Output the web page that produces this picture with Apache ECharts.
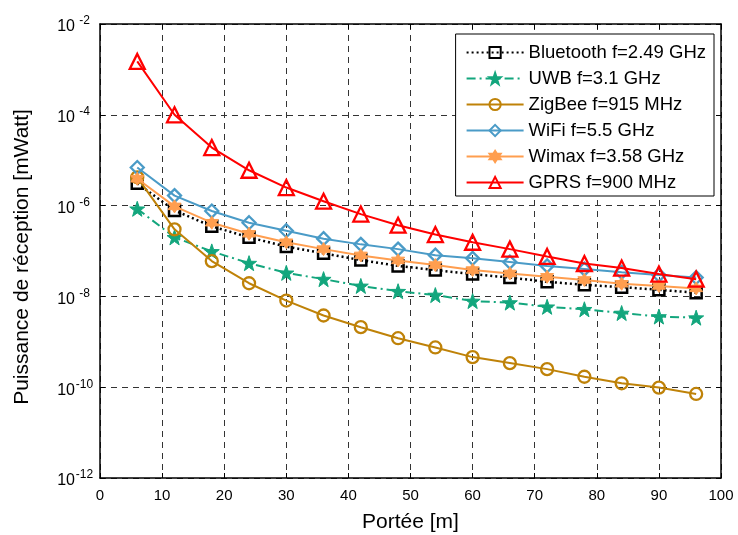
<!DOCTYPE html>
<html>
<head>
<meta charset="utf-8">
<script src="https://cdn.jsdelivr.net/npm/echarts@6/dist/echarts.min.js"></script>
<style>
html,body{margin:0;padding:0;background:#fff;}
#chart{width:738px;height:535px;}
</style>
</head>
<body>
<div id="chart"></div>
<script>
// Distance values (Portée [m])
const distances = [6, 12, 18, 24, 30, 36, 42, 48, 54, 60, 66, 72, 78, 84, 90, 96];

// Series names
const seriesNames = ['Bluetooth f=2.49 GHz', 'UWB f=3.1 GHz', 'ZigBee f=915 MHz', 'WiFi f=5.5 GHz', 'Wimax f=3.58 GHz', 'GPRS f=900 MHz'];

// Received power [mWatt]
const bluetooth = [3.1e-6, 7.8e-7, 3.5e-7, 2.0e-7, 1.25e-7, 8.9e-8, 6.3e-8, 4.7e-8, 3.8e-8, 3.1e-8, 2.6e-8, 2.1e-8, 1.8e-8, 1.6e-8, 1.4e-8, 1.2e-8];
const uwb       = [8.5e-7, 2.0e-7, 9.8e-8, 5.4e-8, 3.3e-8, 2.4e-8, 1.7e-8, 1.3e-8, 1.07e-8, 7.9e-9, 7.3e-9, 5.9e-9, 5.2e-9, 4.3e-9, 3.6e-9, 3.4e-9];
const zigbee    = [4.2e-6, 3.0e-7, 6.0e-8, 1.95e-8, 8.1e-9, 3.8e-9, 2.1e-9, 1.2e-9, 7.5e-10, 4.6e-10, 3.4e-10, 2.5e-10, 1.7e-10, 1.22e-10, 9.8e-11, 7.1e-11];
const wifi      = [6.9e-6, 1.66e-6, 7.6e-7, 4.2e-7, 2.8e-7, 1.87e-7, 1.4e-7, 1.1e-7, 8.1e-8, 6.9e-8, 5.7e-8, 4.7e-8, 4.0e-8, 3.4e-8, 2.95e-8, 2.6e-8];
const wimax     = [3.9e-6, 9.6e-7, 4.2e-7, 2.4e-7, 1.56e-7, 1.1e-7, 8.0e-8, 6.2e-8, 4.9e-8, 3.8e-8, 3.2e-8, 2.7e-8, 2.3e-8, 1.9e-8, 1.7e-8, 1.5e-8];
const gprs      = [1.5e-3, 1.0e-4, 1.9e-5, 6.0e-6, 2.5e-6, 1.25e-6, 6.5e-7, 3.7e-7, 2.3e-7, 1.56e-7, 1.1e-7, 7.6e-8, 5.3e-8, 4.2e-8, 3.1e-8, 2.4e-8];

const FONT = '"Liberation Sans", Arial, Helvetica, sans-serif';
const STAR5 = 'path://M0,-10 L2.35,-3.24 L9.51,-3.09 L3.8,1.24 L5.88,8.09 L0,4 L-5.88,8.09 L-3.8,1.24 L-9.51,-3.09 L-2.35,-3.24 Z';
const STAR6 = 'path://M0,-10 L2.89,-5 L8.66,-5 L5.77,0 L8.66,5 L2.89,5 L0,10 L-2.89,5 L-8.66,5 L-5.77,0 L-8.66,-5 L-2.89,-5 Z';

function pairs(arr) { return distances.map((d, i) => [d, arr[i]]); }

const styles = [
  { data: bluetooth, color: '#000000', symbol: 'rect', size: 11, fill: 'rgba(255,255,255,0)', lineType: [2, 3], lineWidth: 2.5, bw: 2.5 },
  { data: uwb, color: '#13A67D', symbol: STAR5, size: 15, fill: '#13A67D', lineType: [9, 4, 2, 4], lineWidth: 2, bw: 1 },
  { data: zigbee, color: '#BF8208', symbol: 'circle', size: 12, fill: 'rgba(255,255,255,0)', lineType: 'solid', lineWidth: 2, bw: 2.3 },
  { data: wifi, color: '#4A9BC7', symbol: 'diamond', size: 13, fill: 'rgba(255,255,255,0)', lineType: 'solid', lineWidth: 2, bw: 2.3 },
  { data: wimax, color: '#FF9E4F', symbol: STAR6, size: 13, fill: '#FF9E4F', lineType: 'solid', lineWidth: 2, bw: 1 },
  { data: gprs, color: '#FF0000', symbol: 'triangle', size: 15, fill: 'rgba(255,255,255,0)', lineType: 'solid', lineWidth: 2, bw: 2.3 }
];

const series = styles.map((s, i) => ({
  name: seriesNames[i],
  type: 'line',
  data: pairs(s.data),
  symbol: s.symbol,
  symbolSize: s.size,
  showAllSymbol: true,
  smooth: false,
  lineStyle: { color: s.color, width: s.lineWidth, type: s.lineType },
  itemStyle: { color: s.fill, borderColor: s.color, borderWidth: s.bw },
  emphasis: { disabled: true },
  z: 3 + i
}));

const dash = { show: true, lineStyle: { color: '#333', type: [6, 5], width: 1 } };
const axisLine = { show: true, onZero: false, lineStyle: { color: '#000', width: 1.5 } };
const tick = { show: true, inside: true, length: 5, lineStyle: { color: '#000' } };

function yLabel(v) {
  const e = Math.round(Math.log10(v));
  return '{b|10}{e|' + e + '}';
}

const chart = echarts.init(document.getElementById('chart'), null, { renderer: 'canvas' });
chart.setOption({
  animation: false,
  backgroundColor: '#fff',
  textStyle: { fontFamily: FONT },
  grid: { left: 100, right: 17, top: 24, bottom: 57, containLabel: false, outerBoundsMode: 'none' },
  legend: {
    orient: 'vertical',
    right: 24,
    top: 34,
    data: seriesNames,
    backgroundColor: '#fff',
    borderColor: '#000',
    borderWidth: 1,
    borderRadius: 0,
    padding: [9, 8, 4, 10],
    itemWidth: 57,
    itemHeight: 14,
    itemGap: 7,
    textStyle: { fontFamily: FONT, fontSize: 18.5, lineHeight: 18, color: '#000' },
    selectedMode: false
  },
  xAxis: [
    {
      type: 'value', min: 0, max: 100, interval: 10,
      name: 'Portée [m]', nameLocation: 'middle', nameGap: 34,
      nameTextStyle: { fontFamily: FONT, fontSize: 21, color: '#000' },
      axisLine: axisLine, axisTick: tick,
      axisLabel: { fontFamily: FONT, fontSize: 15, color: '#000', margin: 10 },
      splitLine: dash
    },
    {
      type: 'value', min: 0, max: 100, interval: 10, position: 'top',
      axisLine: axisLine, axisTick: tick, axisLabel: { show: false }, splitLine: { show: false }
    }
  ],
  yAxis: [
    {
      type: 'log', logBase: 10, min: 1e-12, max: 1e-2, interval: 2,
      name: 'Puissance de réception [mWatt]', nameLocation: 'middle', nameGap: 67,
      nameTextStyle: { fontFamily: FONT, fontSize: 21, color: '#000', padding: [0, 12, 0, 0] },
      axisLine: axisLine, axisTick: tick, minorTick: { show: false },
      axisLabel: {
        formatter: yLabel, margin: 6,
        rich: {
          b: { fontFamily: FONT, fontSize: 16, color: '#000', padding: [6, 0, 0, 0] },
          e: { fontFamily: FONT, fontSize: 12, color: '#000', padding: [0, 0, 6, 0], width: 19, align: 'left' }
        }
      },
      splitLine: dash
    },
    {
      type: 'log', logBase: 10, min: 1e-12, max: 1e-2, interval: 2, position: 'right',
      axisLine: axisLine, axisTick: tick, axisLabel: { show: false }, splitLine: { show: false }
    }
  ],
  series: series
});
</script>
</body>
</html>
